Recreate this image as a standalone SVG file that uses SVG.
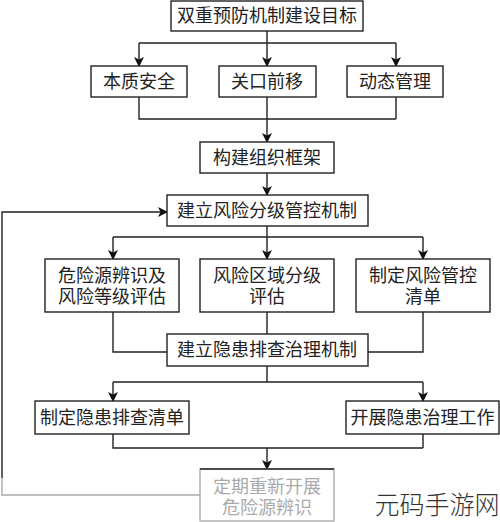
<svg xmlns="http://www.w3.org/2000/svg" width="500" height="522" viewBox="0 0 500 522">
<defs>
<marker id="ah" markerWidth="10" markerHeight="10" refX="9" refY="5" orient="auto" markerUnits="userSpaceOnUse">
<path d="M0,0 L10,5 L0,10 L2.5,5 Z" fill="#111"/>
</marker>
<style>
.box{fill:#fff;stroke:#222;stroke-width:1.4}
.t{font-family:"Liberation Sans","Noto Sans CJK SC",sans-serif;font-size:18px;fill:#222;text-anchor:middle;dominant-baseline:central}
.c{fill:none;stroke:#222;stroke-width:1.4}
.ca{fill:none;stroke:#222;stroke-width:1.4;marker-end:url(#ah)}
.faint{stroke:#aaa}
</style>
</defs>
<rect width="500" height="522" fill="#fff"/>
<g id="connectors">
<path class="c" d="M267,31 V43 M139,43 H396"/>
<path class="ca" d="M139,43 V66"/>
<path class="ca" d="M267,43 V66"/>
<path class="ca" d="M396,43 V66"/>
<path class="c" d="M139,97 V119 H396 M396,97 V119 M267,97 V119"/>
<path class="ca" d="M267,119 V142"/>
<path class="ca" d="M267,173 V195"/>
<path class="c" d="M267,226 V237 M113,237 H423"/>
<path class="ca" d="M113,237 V259"/>
<path class="ca" d="M267,237 V259"/>
<path class="ca" d="M423,237 V259"/>
<path class="c" d="M113,312 V352 H167 M423,312 V352 H368 M267,312 V334"/>
<path class="c" d="M267,366 V382 M113,382 H423"/>
<path class="ca" d="M113,382 V401"/>
<path class="ca" d="M423,382 V401"/>
<path class="c" d="M113,434 V448 H423 M423,434 V448"/>
<path class="ca" d="M267,448 V469"/>
<path class="c faint" d="M200,495 H2 V478"/>
<path class="ca" d="M2,478 V212 H167"/>
</g>
<g id="n1"><rect class="box" x="171" y="1" width="192" height="30"/><text class="t" x="267" y="16">双重预防机制建设目标</text></g>
<g id="n2"><rect class="box" x="91" y="66" width="96" height="31"/><text class="t" x="139" y="81.5">本质安全</text></g>
<g id="n3"><rect class="box" x="219" y="66" width="97" height="31"/><text class="t" x="267" y="81.5">关口前移</text></g>
<g id="n4"><rect class="box" x="347" y="66" width="96" height="31"/><text class="t" x="395" y="81.5">动态管理</text></g>
<g id="n5"><rect class="box" x="200" y="142" width="134" height="31"/><text class="t" x="267" y="157.5">构建组织框架</text></g>
<g id="n6"><rect class="box" x="167" y="195" width="201" height="31"/><text class="t" x="267" y="210.5">建立风险分级管控机制</text></g>
<g id="n7"><rect class="box" x="45" y="259" width="134" height="53"/><text class="t"><tspan x="112" y="275.5">危险源辨识及</tspan><tspan x="112" y="297">风险等级评估</tspan></text></g>
<g id="n8"><rect class="box" x="200" y="259" width="134" height="53"/><text class="t"><tspan x="267" y="275.5">风险区域分级</tspan><tspan x="267" y="297">评估</tspan></text></g>
<g id="n9"><rect class="box" x="356" y="259" width="134" height="53"/><text class="t"><tspan x="423" y="275.5">制定风险管控</tspan><tspan x="423" y="297">清单</tspan></text></g>
<g id="n10"><rect class="box" x="167" y="334" width="201" height="32"/><text class="t" x="267" y="350">建立隐患排查治理机制</text></g>
<g id="n11"><rect class="box" x="35" y="401" width="154" height="33"/><text class="t" x="112" y="417.5">制定隐患排查清单</text></g>
<g id="n12"><rect class="box" x="346" y="401" width="153" height="33"/><text class="t" x="422.5" y="417.5">开展隐患治理工作</text></g>
<g id="n13"><rect class="box" x="200" y="469" width="134" height="52" style="stroke:#aaa"/><path class="c" d="M200,469 H334"/><text class="t" style="fill:#aaa"><tspan x="267" y="486.5">定期重新开展</tspan><tspan x="267" y="508">危险源辨识</tspan></text></g>
<text x="437" y="505" style="font-family:'Liberation Sans','Noto Sans CJK SC',sans-serif;font-size:25px;font-weight:300;fill:#333;text-anchor:middle;dominant-baseline:central">元码手游网</text>
</svg>
